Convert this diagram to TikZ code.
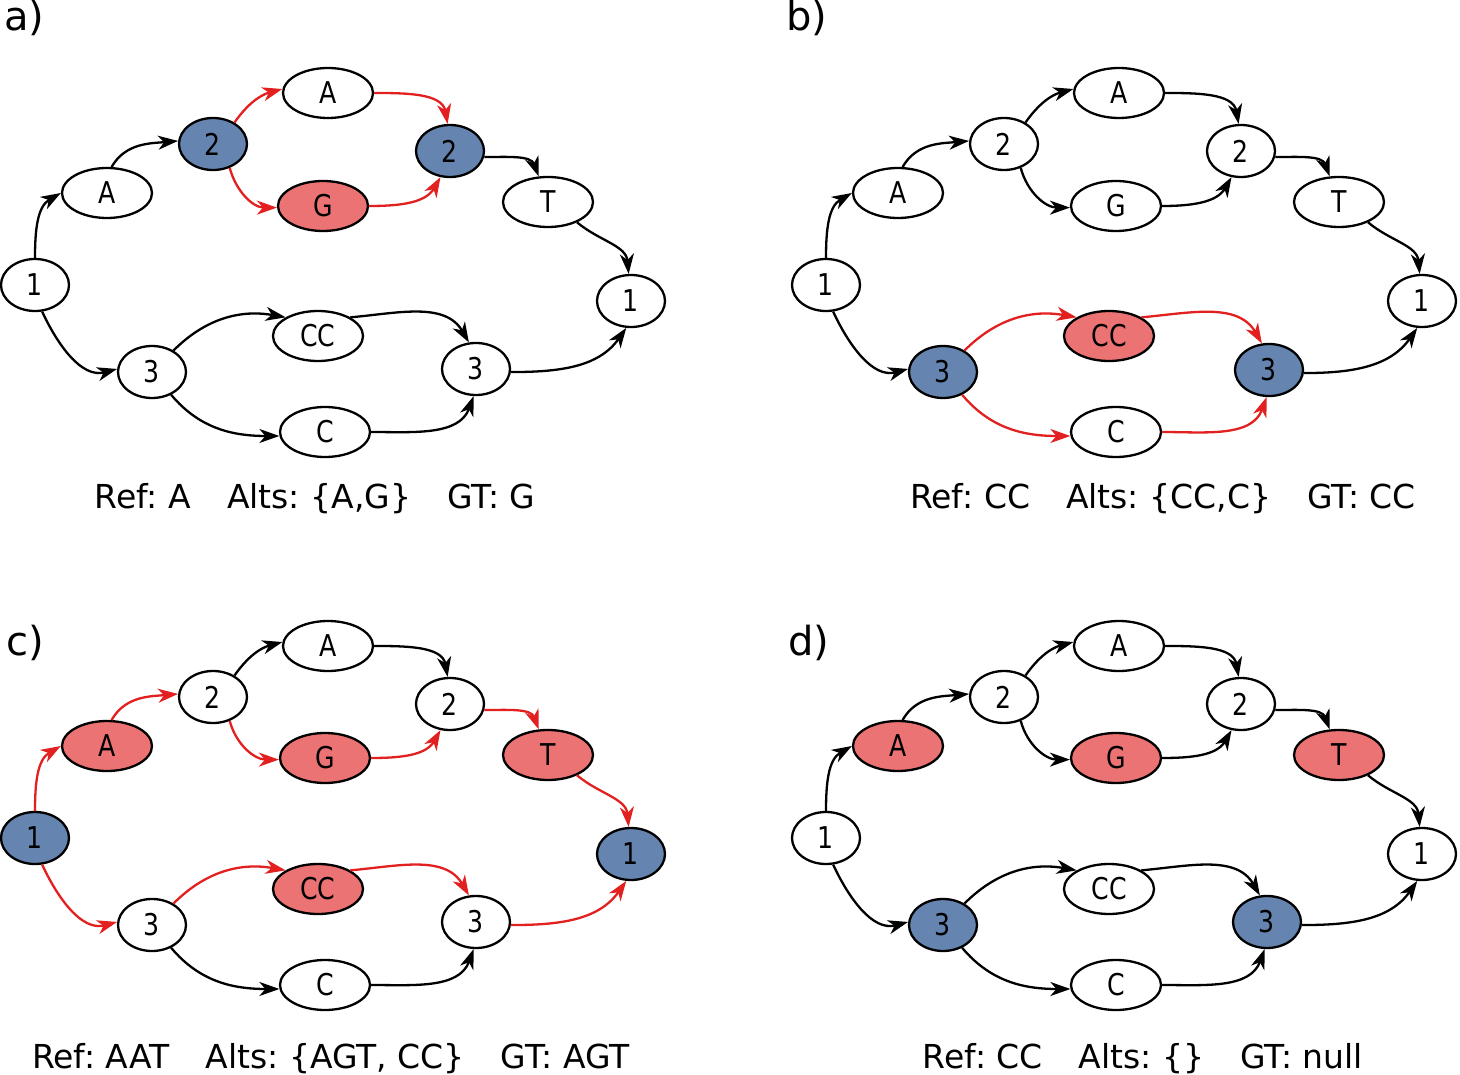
\documentclass[tikz,border=0pt]{standalone}
\usepackage{fontspec}
\setmainfont{DejaVu Sans}
\newfontfamily\nodefont[FakeStretch=0.84]{DejaVu Sans}
\usetikzlibrary{shapes.geometric, arrows.meta}
\definecolor{refblue}{RGB}{101,133,176}
\definecolor{altred}{RGB}{236,115,115}
\definecolor{edgered}{RGB}{226,32,32}
\tikzstyle{vertex} = [ellipse, draw=black, line width=2.3pt,
    minimum width=68pt, minimum height=52pt, inner sep=0pt,
    font={\nodefont\fontsize{30}{32}\selectfont}]
\tikzstyle{base} = [vertex, minimum width=90pt, minimum height=50pt]
\tikzstyle{ref} = [fill=refblue]
\tikzstyle{alt} = [fill=altred]
\tikzstyle{arrow} = [line width=2.3pt,->,>={Stealth[length=20pt,width=14pt,inset=6pt]}]
\tikzstyle{altarrow} = [arrow, draw=edgered]
\tikzstyle{caption} = [anchor=base, inner sep=0pt, font=\fontsize{33}{36}\selectfont]
\tikzstyle{tag} = [anchor=base west, inner sep=0pt, font=\fontsize{40}{44}\selectfont]
\newcommand{\gap}{\hspace{36pt}}
\frenchspacing

\begin{document}
\begin{tikzpicture}[x=1pt, y=-1pt]
\useasboundingbox (0,0) rectangle (1460,1075);

        % a) reference allele A, genotype G
        \begin{scope}
        \node (atag) [tag] at (4,31) {a)};
        \node (a1) [vertex] at (35,285) {1};
        \node (aA) [base] at (107,193) {A};
        \node (a2) [vertex, ref] at (213,144) {2};
        \node (aAt) [base] at (328,93) {A};
        \node (aG) [base, alt] at (323,206) {G};
        \node (a2r) [vertex, ref] at (450,151) {2};
        \node (aT) [base] at (548,202) {T};
        \node (a1r) [vertex] at (631,301) {1};
        \node (a3) [vertex] at (152,372) {3};
        \node (aCC) [base] at (318,336) {CC};
        \node (aC) [base] at (325,432) {C};
        \node (a3r) [vertex] at (476,369) {3};
        \node (acap) [caption] at (315,508) {Ref: A\gap Alts: \{A,G\}\gap GT: G};

        \draw [arrow] (a1.north) to[out=90,in=210] (aA.180);
        \draw [arrow] (aA.80) to[out=60,in=185] (a2.175);
        \draw [altarrow] (a2.45) to[out=55,in=195] (aAt.175);
        \draw [altarrow] (a2.-55) to[out=-75,in=180] (aG.182);
        \draw [altarrow] (aAt.0) to[out=0,in=100] (a2r.95);
        \draw [altarrow] (aG.0) to[out=0,in=-120] (a2r.-110);
        \draw [arrow] (a2r.-10) to[out=0,in=110] (aT.110);
        \draw [arrow] (aT.-35) to[out=-40,in=95] (a1r.95);
        \draw [arrow] (a1.-75) to[out=-65,in=195] (a3.175);
        \draw [arrow] (a3.45) to[out=45,in=170] (aCC.150);
        \draw [arrow] (aCC.30) to[out=5,in=120] (a3r.105);
        \draw [arrow] (a3.-50) to[out=-50,in=180] (aC.185);
        \draw [arrow] (aC.0) to[out=0,in=-110] (a3r.-95);
        \draw [arrow] (a3r.-5) to[out=0,in=-125] (a1r.-100);
        \end{scope}

        % b) reference CC, genotype CC
        \begin{scope}[shift={(791,0)}]
        \node (btag) [tag] at (-5,31) {b)};
        \node (b1) [vertex] at (35,285) {1};
        \node (bA) [base] at (107,193) {A};
        \node (b2) [vertex] at (213,144) {2};
        \node (bAt) [base] at (328,93) {A};
        \node (bG) [base] at (325,206) {G};
        \node (b2r) [vertex] at (450,151) {2};
        \node (bT) [base] at (548,202) {T};
        \node (b1r) [vertex] at (631,301) {1};
        \node (b3) [vertex, ref] at (152,372) {3};
        \node (bCC) [base, alt] at (318,336) {CC};
        \node (bC) [base] at (325,432) {C};
        \node (b3r) [vertex, ref] at (478,370) {3};
        \node (bcap) [caption] at (372,508) {Ref: CC\gap Alts: \{CC,C\}\gap GT: CC};

        \draw [arrow] (b1.north) to[out=90,in=210] (bA.180);
        \draw [arrow] (bA.80) to[out=60,in=185] (b2.175);
        \draw [arrow] (b2.45) to[out=55,in=195] (bAt.175);
        \draw [arrow] (b2.-55) to[out=-75,in=180] (bG.182);
        \draw [arrow] (bAt.0) to[out=0,in=100] (b2r.95);
        \draw [arrow] (bG.0) to[out=0,in=-120] (b2r.-110);
        \draw [arrow] (b2r.-10) to[out=0,in=110] (bT.110);
        \draw [arrow] (bT.-35) to[out=-40,in=95] (b1r.95);
        \draw [arrow] (b1.-75) to[out=-65,in=195] (b3.175);
        \draw [altarrow] (b3.45) to[out=45,in=170] (bCC.150);
        \draw [altarrow] (bCC.30) to[out=5,in=120] (b3r.105);
        \draw [altarrow] (b3.-50) to[out=-50,in=180] (bC.185);
        \draw [altarrow] (bC.0) to[out=0,in=-110] (b3r.-95);
        \draw [arrow] (b3r.-5) to[out=0,in=-125] (b1r.-100);
        \end{scope}

        % c) reference AAT, genotype AGT
        \begin{scope}[shift={(0,553)}]
        \node (ctag) [tag] at (6,102) {c)};
        \node (c1) [vertex, ref] at (35,285) {1};
        \node (cA) [base, alt] at (107,193) {A};
        \node (c2) [vertex] at (213,144) {2};
        \node (cAt) [base] at (328,93) {A};
        \node (cG) [base, alt] at (325,205) {G};
        \node (c2r) [vertex] at (450,151) {2};
        \node (cT) [base, alt] at (548,202) {T};
        \node (c1r) [vertex, ref] at (631,301) {1};
        \node (c3) [vertex] at (152,372) {3};
        \node (cCC) [base, alt] at (318,336) {CC};
        \node (cC) [base] at (325,432) {C};
        \node (c3r) [vertex] at (476,369) {3};
        \node (ccap) [caption] at (331,515) {Ref: AAT\gap Alts: \{AGT, CC\}\gap GT: AGT};

        \draw [altarrow] (c1.north) to[out=90,in=210] (cA.180);
        \draw [altarrow] (cA.80) to[out=60,in=185] (c2.175);
        \draw [arrow] (c2.45) to[out=55,in=195] (cAt.175);
        \draw [altarrow] (c2.-55) to[out=-75,in=180] (cG.182);
        \draw [arrow] (cAt.0) to[out=0,in=100] (c2r.95);
        \draw [altarrow] (cG.0) to[out=0,in=-120] (c2r.-110);
        \draw [altarrow] (c2r.-10) to[out=0,in=110] (cT.110);
        \draw [altarrow] (cT.-35) to[out=-40,in=95] (c1r.95);
        \draw [altarrow] (c1.-75) to[out=-65,in=195] (c3.175);
        \draw [altarrow] (c3.45) to[out=45,in=170] (cCC.150);
        \draw [altarrow] (cCC.30) to[out=5,in=120] (c3r.105);
        \draw [arrow] (c3.-50) to[out=-50,in=180] (cC.185);
        \draw [arrow] (cC.0) to[out=0,in=-110] (c3r.-95);
        \draw [altarrow] (c3r.-5) to[out=0,in=-125] (c1r.-100);
        \end{scope}

        % d) reference CC, no alts
        \begin{scope}[shift={(791,553)}]
        \node (dtag) [tag] at (-3,102) {d)};
        \node (d1) [vertex] at (35,285) {1};
        \node (dA) [base, alt] at (107,193) {A};
        \node (d2) [vertex] at (213,144) {2};
        \node (dAt) [base] at (328,93) {A};
        \node (dG) [base, alt] at (325,205) {G};
        \node (d2r) [vertex] at (450,151) {2};
        \node (dT) [base, alt] at (548,202) {T};
        \node (d1r) [vertex] at (631,301) {1};
        \node (d3) [vertex, ref] at (152,372) {3};
        \node (dCC) [base] at (318,336) {CC};
        \node (dC) [base] at (325,432) {C};
        \node (d3r) [vertex, ref] at (476,369) {3};
        \node (dcap) [caption] at (352,515) {Ref: CC\gap Alts: \{\}\gap GT: null};

        \draw [arrow] (d1.north) to[out=90,in=210] (dA.180);
        \draw [arrow] (dA.80) to[out=60,in=185] (d2.175);
        \draw [arrow] (d2.45) to[out=55,in=195] (dAt.175);
        \draw [arrow] (d2.-55) to[out=-75,in=180] (dG.182);
        \draw [arrow] (dAt.0) to[out=0,in=100] (d2r.95);
        \draw [arrow] (dG.0) to[out=0,in=-120] (d2r.-110);
        \draw [arrow] (d2r.-10) to[out=0,in=110] (dT.110);
        \draw [arrow] (dT.-35) to[out=-40,in=95] (d1r.95);
        \draw [arrow] (d1.-75) to[out=-65,in=195] (d3.175);
        \draw [arrow] (d3.45) to[out=45,in=170] (dCC.150);
        \draw [arrow] (dCC.30) to[out=5,in=120] (d3r.105);
        \draw [arrow] (d3.-50) to[out=-50,in=180] (dC.185);
        \draw [arrow] (dC.0) to[out=0,in=-110] (d3r.-95);
        \draw [arrow] (d3r.-5) to[out=0,in=-125] (d1r.-100);
        \end{scope}

    \end{tikzpicture}
\end{document}
